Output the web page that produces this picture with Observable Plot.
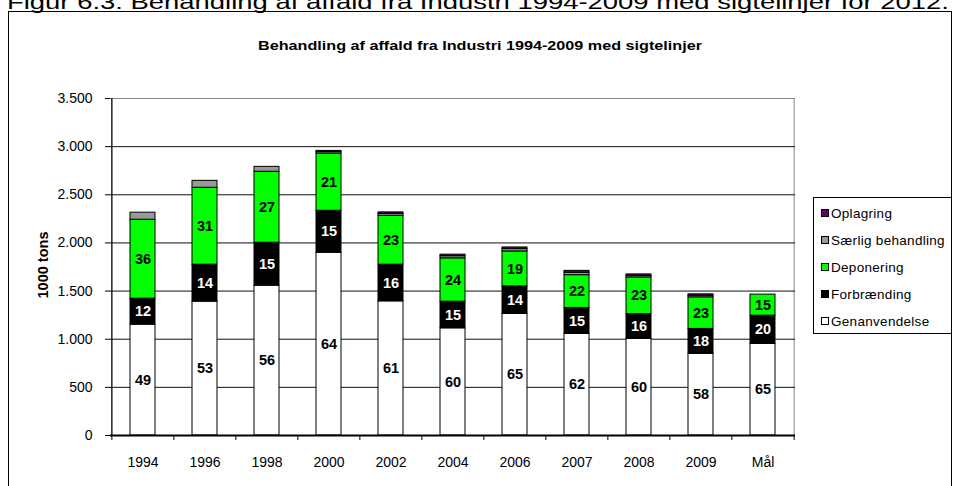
<!DOCTYPE html>
<html><head><meta charset="utf-8">
<script src="https://cdn.jsdelivr.net/npm/d3@7"></script>
<script src="https://cdn.jsdelivr.net/npm/@observablehq/plot@0.6"></script>
<style>
body{margin:0;background:#fff;}
#wrap{position:relative;width:956px;height:486px;overflow:hidden;font-family:Arial,"Liberation Sans",sans-serif;background:#fff;}
#wrap > *{position:absolute;left:0;top:0;}
#legend{left:813px;top:197px;width:139px;height:137px;border:1px solid #000;box-sizing:border-box;background:#fff;font-size:13.5px;letter-spacing:0.3px;}
#legend .it{position:absolute;left:7px;height:16px;line-height:16px;white-space:nowrap;}
#legend .sw{display:inline-block;width:6px;height:6px;border:1px solid #000;margin-right:2px;vertical-align:1px;}
</style></head><body><div id="wrap"></div>
<script>
const years = ["1994","1996","1998","2000","2002","2004","2006","2007","2008","2009","Mål"];
const seriesNames = ["Genanvendelse","Forbrænding","Deponering","Særlig behandling","Oplagring"];
const seriesColors = ["#ffffff","#000000","#00ff00","#999999","#660066"];
// 1000 tons
const genanvendelse = [1151,1390,1556,1898,1393,1113,1262,1055,1003,848,951];
const forbraending  = [270,384,446,436,381,277,287,270,259,259,294];
const deponering    = [820,799,737,595,508,450,363,340,380,328,218];
const saerlig       = [73,72,51,15,20,22,24,25,16,16,0];
const oplagring     = [0,0,0,12,15,16,17,20,15,15,0];
// percentage labels
const pctGen = [49,53,56,64,61,60,65,62,60,58,65];
const pctForb = [12,14,15,15,16,15,14,15,16,18,20];
const pctDep = [36,31,27,21,23,24,19,22,23,23,15];
const yTicks = [0,500,1000,1500,2000,2500,3000,3500];

const seriesValues = [genanvendelse, forbraending, deponering, saerlig, oplagring];
const seriesPct = [pctGen, pctForb, pctDep, null, null];
const colorOf = Object.fromEntries(seriesNames.map((s,i)=>[s, seriesColors[i]]));

const rows = [];
years.forEach((y, i) => seriesNames.forEach((s, j) => {
  rows.push({year: y, series: s, value: seriesValues[j][i], pct: seriesPct[j] ? seriesPct[j][i] : null});
}));
const labelRows = rows.filter(d => d.pct != null);

const W = 956, H = 486, mL = 110, mR = 161, mT = 98, mB = 51;
const step = (W - mL - mR) / years.length;
const fmt = d3.formatLocale({decimal: ",", thousands: ".", grouping: [3], currency: ["", ""]}).format(",d");

const chart = Plot.plot({
  width: W, height: H,
  marginLeft: mL, marginRight: mR, marginTop: mT, marginBottom: mB,
  style: {fontFamily: 'Arial, "Liberation Sans", sans-serif', fontSize: "14px", background: "transparent", color: "#000"},
  x: {type: "band", domain: years, paddingInner: 0.6, paddingOuter: 0.3},
  y: {domain: [0, 3500]},
  color: {type: "identity"},
  marks: [
    Plot.ruleY([3500], {stroke: "#888"}),
    Plot.ruleX([years[years.length-1]], {x: d => d, dx: step/2, stroke: "#888"}),
    Plot.ruleY(yTicks.filter(v => v > 0 && v < 3500), {stroke: "#111", strokeWidth: 1}),
    Plot.barY(rows, {x: "year", y: "value", z: "series", fill: d => colorOf[d.series], stroke: "#000", strokeWidth: 1}),
    Plot.text(labelRows, Plot.stackY({x: "year", y: "value", z: "series", text: d => String(d.pct),
      fill: d => d.series === "Forbrænding" ? "#ffffff" : "#000000", fontWeight: "bold", fontSize: 14.5})),
    Plot.ruleX([years[0]], {x: d => d, dx: -step/2, stroke: "#000", strokeWidth: 1.3}),
    Plot.ruleX(years, {x: d => d, dx: -step/2, stroke: "#000", insetTop: H - mT - mB, insetBottom: -5}),
    Plot.ruleX([years[years.length-1]], {x: d => d, dx: step/2, stroke: "#000", insetTop: H - mT - mB, insetBottom: -5}),
    Plot.ruleY([0], {stroke: "#000", strokeWidth: 2.2}),
    Plot.axisY({ticks: yTicks, tickFormat: fmt, tickSize: 5, tickPadding: 13, fontSize: 14, label: null}),
    Plot.axisX({tickSize: 0, tickPadding: 22, fontSize: 14, label: null})
  ]
});

const wrap = document.getElementById("wrap");
const NS = "http://www.w3.org/2000/svg";
const over = document.createElementNS(NS, "svg");
over.setAttribute("width", W); over.setAttribute("height", H);
over.innerHTML = `
  <text x="7" y="8.5" font-family="Arial, Liberation Sans, sans-serif" font-size="21" textLength="942" lengthAdjust="spacingAndGlyphs" fill="#000">Figur 6.3: Behandling af affald fra Industri 1994-2009 med sigtelinjer for 2012.</text>
  <rect x="8.5" y="11.5" width="943" height="500" fill="none" stroke="#000" stroke-width="1"/>
  <text x="480" y="50" text-anchor="middle" font-family="Arial, Liberation Sans, sans-serif" font-size="13" font-weight="bold" textLength="444" lengthAdjust="spacingAndGlyphs" fill="#000">Behandling af affald fra Industri 1994-2009 med sigtelinjer</text>
  <text transform="translate(48,265) rotate(-90)" text-anchor="middle" font-family="Arial, Liberation Sans, sans-serif" font-size="14.5" font-weight="bold" fill="#000">1000 tons</text>
`;
wrap.appendChild(over);
wrap.appendChild(chart);

const legend = document.createElement("div");
legend.id = "legend";
const legOrder = [4,3,2,1,0];
legOrder.forEach((j, k) => {
  const it = document.createElement("div");
  it.className = "it";
  it.style.top = (8 + k * 27) + "px";
  const sw = document.createElement("span");
  sw.className = "sw"; sw.style.background = seriesColors[j];
  it.appendChild(sw);
  it.appendChild(document.createTextNode(seriesNames[j]));
  legend.appendChild(it);
});
wrap.appendChild(legend);
</script></body></html>
